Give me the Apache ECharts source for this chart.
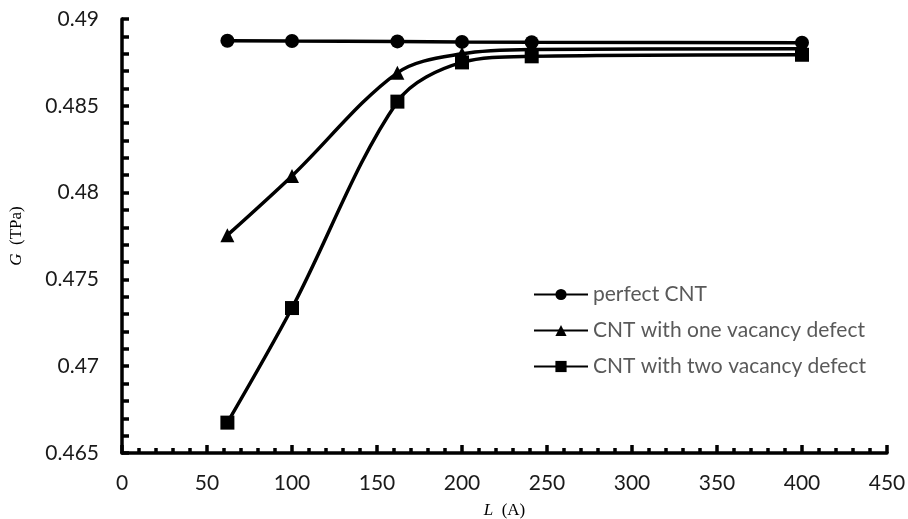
<!DOCTYPE html>
<html>
<head>
<meta charset="utf-8">
<script src="https://cdn.jsdelivr.net/npm/echarts@6/dist/echarts.min.js"></script>
<style>html,body{margin:0;padding:0;background:#fff;}#c{width:908px;height:519px;}</style>
</head>
<body>
<div id="c"></div>
<script>
const lengths = [62, 100, 162, 200, 241, 400];
const perfectCNT = [0.48875, 0.48873, 0.48871, 0.48868, 0.48866, 0.48863];
const oneVacancy = [0.47755, 0.48096, 0.48690, 0.48800, 0.48825, 0.48829];
const twoVacancy = [0.46675, 0.47335, 0.48524, 0.48750, 0.48785, 0.48794];
const seriesNames = ['perfect CNT', 'CNT with one vacancy defect', 'CNT with two vacancy defect'];

function pairs(ys) { return lengths.map((x, i) => [x, ys[i]]); }

const chart = echarts.init(document.getElementById('c'), null, {renderer: 'canvas'});
const axisFont = {fontFamily: 'Lato', fontSize: 21, color: '#1a1a1a'};
const lineStyle = {color: '#000', width: 3.5};
function mk(name, data, symbol, smooth) {
  return {
    name, type: 'line', data: pairs(data), symbol, symbolSize: 14,
    smooth, lineStyle, itemStyle: {color: '#000'}, emphasis: {disabled: true}, z: 3
  };
}
chart.setOption({
  animation: false,
  grid: {left: 122, right: 21, top: 19, bottom: 66, outerBoundsMode: 'none', containLabel: false},
  legend: {
    orient: 'vertical', left: 533, top: 284, padding: 0, itemWidth: 54, itemHeight: 14, itemGap: 15,
    textStyle: {fontFamily: 'Lato', fontSize: 21, color: '#595959'},
    data: seriesNames
  },
  xAxis: {
    type: 'value', min: 0, max: 450, interval: 50,
    axisLine: {show: true, lineStyle: {color: '#000', width: 3.5}},
    axisTick: {show: true, inside: true, length: 8, lineStyle: {color: '#000', width: 3.5}},
    minorTick: {show: true, splitNumber: 5, length: 5, lineStyle: {color: '#000', width: 3.5}},
    splitLine: {show: false},
    axisLabel: Object.assign({margin: 20}, axisFont),
    name: '{i|L}  (A)', nameLocation: 'middle', nameGap: 49,
    nameTextStyle: {fontFamily: 'Liberation Serif', fontSize: 17, color: '#000',
      rich: {i: {fontFamily: 'Liberation Serif', fontStyle: 'italic', fontSize: 17, color: '#000'}}}
  },
  yAxis: {
    type: 'value', min: 0.465, max: 0.49, interval: 0.005,
    axisLine: {show: true, lineStyle: {color: '#000', width: 3.5}},
    axisTick: {show: true, inside: true, length: 7, lineStyle: {color: '#000', width: 3.5}},
    minorTick: {show: true, splitNumber: 5, length: 7, lineStyle: {color: '#000', width: 3.5}},
    splitLine: {show: false},
    axisLabel: Object.assign({margin: 23, formatter: v => String(+v.toFixed(3))}, axisFont),
    name: '{i|G}  (TPa)', nameLocation: 'middle', nameGap: 97, nameRotate: 90,
    nameTextStyle: {fontFamily: 'Liberation Serif', fontSize: 17, color: '#000',
      rich: {i: {fontFamily: 'Liberation Serif', fontStyle: 'italic', fontSize: 17, color: '#000'}}}
  },
  series: [
    mk(seriesNames[0], perfectCNT, 'circle', false),
    mk(seriesNames[1], oneVacancy, 'triangle', 0.33),
    mk(seriesNames[2], twoVacancy, 'rect', 0.33)
  ]
});
</script>
</body>
</html>
